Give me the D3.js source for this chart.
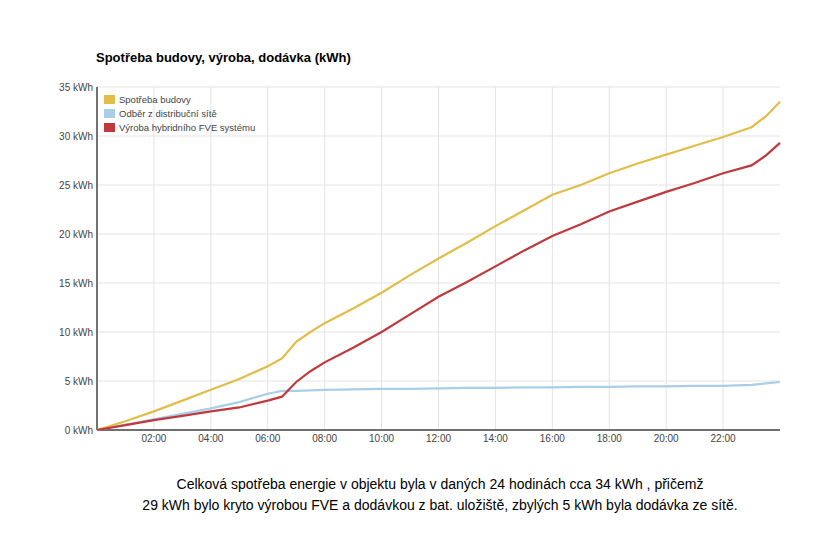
<!DOCTYPE html><html><head><meta charset="utf-8"><script src="https://d3js.org/d3.v7.min.js"></script>
<style>body{margin:0;background:#fff;font-family:Arial,"Liberation Sans",sans-serif}</style></head><body><svg id="c" width="830" height="554"></svg>
<script>
const hours=[0,1,2,3,4,5,6,6.5,7,7.5,8,9,10,11,12,13,14,15,16,17,18,19,20,21,22,23,23.5,24];
const consumption=[0,0.9,1.9,3.0,4.1,5.2,6.5,7.3,9.0,10.0,10.9,12.4,14.0,15.8,17.5,19.1,20.8,22.4,24.0,25.0,26.2,27.2,28.1,29.0,29.9,30.9,32.0,33.5];
const grid=[0,0.55,1.1,1.65,2.2,2.85,3.7,4.0,4.0,4.05,4.1,4.15,4.2,4.2,4.25,4.3,4.3,4.35,4.35,4.4,4.4,4.45,4.45,4.5,4.5,4.6,4.75,4.9];
const production=[0,0.5,1.0,1.45,1.9,2.3,3.0,3.4,4.9,6.0,6.9,8.4,10.0,11.8,13.6,15.1,16.7,18.3,19.8,21.0,22.3,23.3,24.3,25.2,26.2,27.0,28.0,29.3];
const yTicks=[0,5,10,15,20,25,30,35];
const xTicks=[2,4,6,8,10,12,14,16,18,20,22];
const seriesNames=["Spotřeba budovy","Odběr z distribuční sítě","Výroba hybridního FVE systému"];
const colors=["#e2bd4a","#a9cfe6","#c0393d"];
const svg=d3.select("#c");
const x=d3.scaleLinear().domain([0,24]).range([97,780]);
const y=d3.scaleLinear().domain([0,35]).range([430,87]);
svg.append("text").attr("x",96).attr("y",62).attr("font-size",13).attr("font-weight","bold").text("Spotřeba budovy, výroba, dodávka (kWh)");
svg.append("g").selectAll("line").data(yTicks).join("line").attr("x1",97).attr("x2",780).attr("y1",d=>y(d)).attr("y2",d=>y(d)).attr("stroke","#e3e3e3");
svg.append("g").selectAll("line").data(xTicks).join("line").attr("y1",87).attr("y2",430).attr("x1",d=>x(d)).attr("x2",d=>x(d)).attr("stroke","#e3e3e3");
svg.append("g").selectAll("text").data(yTicks).join("text").attr("x",93).attr("y",d=>y(d)+4).attr("text-anchor","end").attr("font-size",10).attr("fill","#444").text(d=>d+" kWh");
svg.append("g").selectAll("text").data(xTicks).join("text").attr("x",d=>x(d)).attr("y",442).attr("text-anchor","middle").attr("font-size",10).attr("fill","#444").text(d=>String(d).padStart(2,"0")+":00");
svg.append("line").attr("x1",97).attr("x2",97).attr("y1",87).attr("y2",430).attr("stroke","#444").attr("stroke-width",1.5);
svg.append("line").attr("x1",97).attr("x2",780).attr("y1",430).attr("y2",430).attr("stroke","#444").attr("stroke-width",1.5);
const line=d3.line().x((d,i)=>x(hours[i])).y(d=>y(d));
[grid,consumption,production].forEach((s,k)=>{const ci=[1,0,2][k];
svg.append("path").attr("d",line(s)).attr("fill","none").attr("stroke",colors[ci]).attr("stroke-width",2.2);});
const lg=svg.append("g");
seriesNames.forEach((n,i)=>{lg.append("rect").attr("x",104).attr("y",95+i*14).attr("width",11).attr("height",9).attr("fill",colors[i]);
lg.append("text").attr("x",119).attr("y",103+i*14).attr("font-size",9.5).attr("fill","#444").text(n);});
svg.append("text").attr("x",440).attr("y",489).attr("text-anchor","middle").attr("font-size",14).text("Celková spotřeba energie v objektu byla v daných 24 hodinách cca 34 kWh , přičemž");
svg.append("text").attr("x",440).attr("y",510).attr("text-anchor","middle").attr("font-size",14).text("29 kWh bylo kryto výrobou FVE a dodávkou z bat. uložiště, zbylých 5 kWh byla dodávka ze sítě.");
</script></body></html>
